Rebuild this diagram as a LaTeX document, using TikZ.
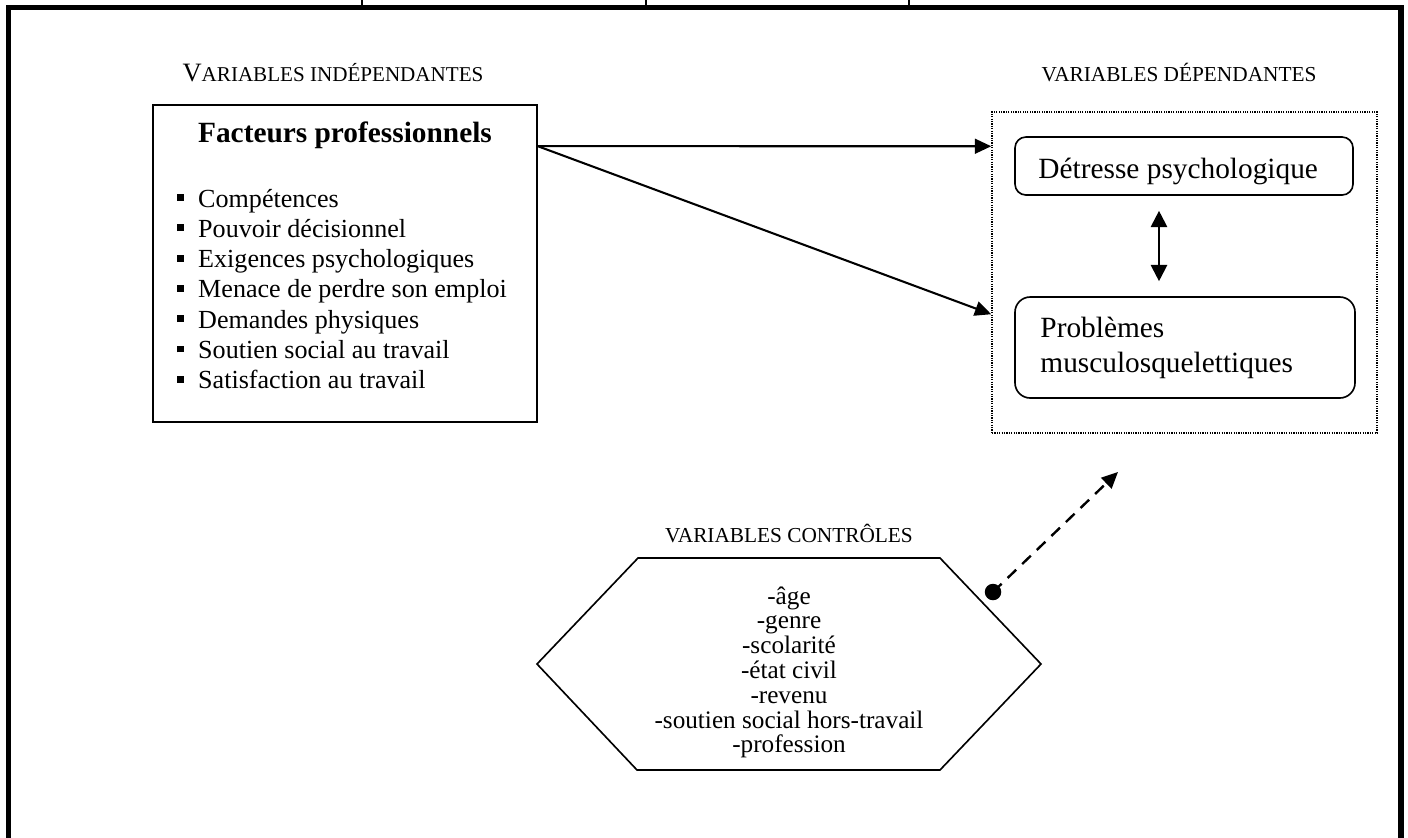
\documentclass[tikz,border=0pt]{standalone}
\usepackage{fontspec}
\setmainfont{Liberation Serif}
\usetikzlibrary{arrows.meta,calc}

% small filled square used as list bullet
\newcommand\sqbul{\makebox[9.8pt][l]{\rule[2.8pt]{3.1pt}{3.1pt}}}

\begin{document}
\begin{tikzpicture}[x=0.46pt,y=-0.46pt,
  pxbox/.style 2 args={minimum width={#1*0.46pt},minimum height={#2*0.46pt},inner sep=0pt},
  framebox/.style={draw,line width=0.75pt},
  roundbox/.style={draw,line width=0.75pt,rounded corners=5pt},
  dotbox/.style={draw,line width=0.7pt,dash pattern=on 0.55pt off 0.55pt},
  caps/.style={font=\fontsize{9.8}{11}\selectfont,anchor=base,inner sep=0pt},
  body/.style={font=\fontsize{12}{13.8}\selectfont,anchor=base west,inner sep=0pt},
  bigbody/.style={font=\fontsize{13.5}{15.5}\selectfont,anchor=base west,inner sep=0pt},
  hexline/.style={font=\fontsize{11.6}{13.4}\selectfont,anchor=base,inner sep=0pt},
  tip/.style={-{Triangle[length=7.5pt,width=6.8pt]}},
  arr/.style={line width=0.95pt,tip},
]
\useasboundingbox (0,0) rectangle (1408,837);

% page frame (open at the bottom) and small table ticks above it
\draw[line width=2.6pt] (8.5,845) -- (8.5,7.5) -- (1401,7.5) -- (1401,845);
\foreach \tx in {362,646,909} \draw[line width=0.6pt] (\tx,0) -- (\tx,6);

% independent variables
\node[caps] (lblIndep) at (333,81) {{\fontsize{12.2}{14}\selectfont V}\fontsize{9.7}{11}\selectfont ARIABLES INDÉPENDANTES};
\node[framebox,pxbox={384}{317}] (indep) at (345,263.5) {};
\node[font=\fontsize{13.5}{16}\selectfont\bfseries,anchor=base,inner sep=0pt] (title) at (345,142) {Facteurs professionnels};
\foreach \t [count=\i from 0] in {Compétences,Pouvoir décisionnel,Exigences psychologiques,Menace de perdre son emploi,Demandes physiques,Soutien social au travail,Satisfaction au travail}
  \node[body] (item\i) at (176.5,{207+30.3*\i}) {\sqbul\t};

% dependent variables
\node[caps] (lblDep) at (1179,81) {VARIABLES DÉPENDANTES};
\node[dotbox,pxbox={385}{321}] (dep) at (1184.5,272.5) {};
\node[roundbox,pxbox={338}{58}] (detresse) at (1184,166) {};
\node[bigbody] (detresseTxt) at (1038,178) {Détresse psychologique};
\node[roundbox,rounded corners=7pt,pxbox={340}{101}] (tms) at (1185,347.5) {};
\node[bigbody] (tmsTxtA) at (1040,337) {Problèmes};
\node[bigbody] (tmsTxtB) at (1040,372) {musculosquelettiques};

% causal links
\draw[arr] ([yshift={-42*0.46pt}]indep.north east) -- ([yshift={-35*0.46pt}]dep.north west);
\draw[arr] ([yshift={-42*0.46pt}]indep.north east) -- ([yshift={-203*0.46pt}]dep.north west);
\draw[line width=0.95pt,{Triangle[length=7.5pt,width=7.5pt]}-{Triangle[length=7.5pt,width=7.5pt]}]
  ([xshift={-25*0.46pt},yshift={-15*0.46pt}]detresse.south) -- ([xshift={-26*0.46pt},yshift={15*0.46pt}]tms.north);

% control variables
\node[caps] (lblCtrl) at (789,542) {VARIABLES CONTRÔLES};
\coordinate (hxW) at (537,664);
\coordinate (hxNW) at (638,558);
\coordinate (hxNE) at (940,558);
\coordinate (hxE) at (1041,664);
\coordinate (hxSE) at (940,770);
\coordinate (hxSW) at (637,770);
\draw[line width=0.75pt] (hxW) -- (hxNW) -- (hxNE) -- (hxE) -- (hxSE) -- (hxSW) -- cycle;
\foreach \t [count=\i from 0] in {-âge,-genre,-scolarité,-état civil,-revenu,-soutien social hors-travail,-profession}
  \node[hexline] (ctrl\i) at (789,{604+24.8*\i}) {\t};

% moderating link from the controls
\coordinate (dotpt) at (993,592);
\coordinate (dashEnd) at (1118,472);
\fill (dotpt) circle (3.8pt);
\draw[line width=1.1pt,dash pattern=on 5.5pt off 3.8pt,tip] (dotpt) -- (dashEnd);
\end{tikzpicture}
\end{document}
